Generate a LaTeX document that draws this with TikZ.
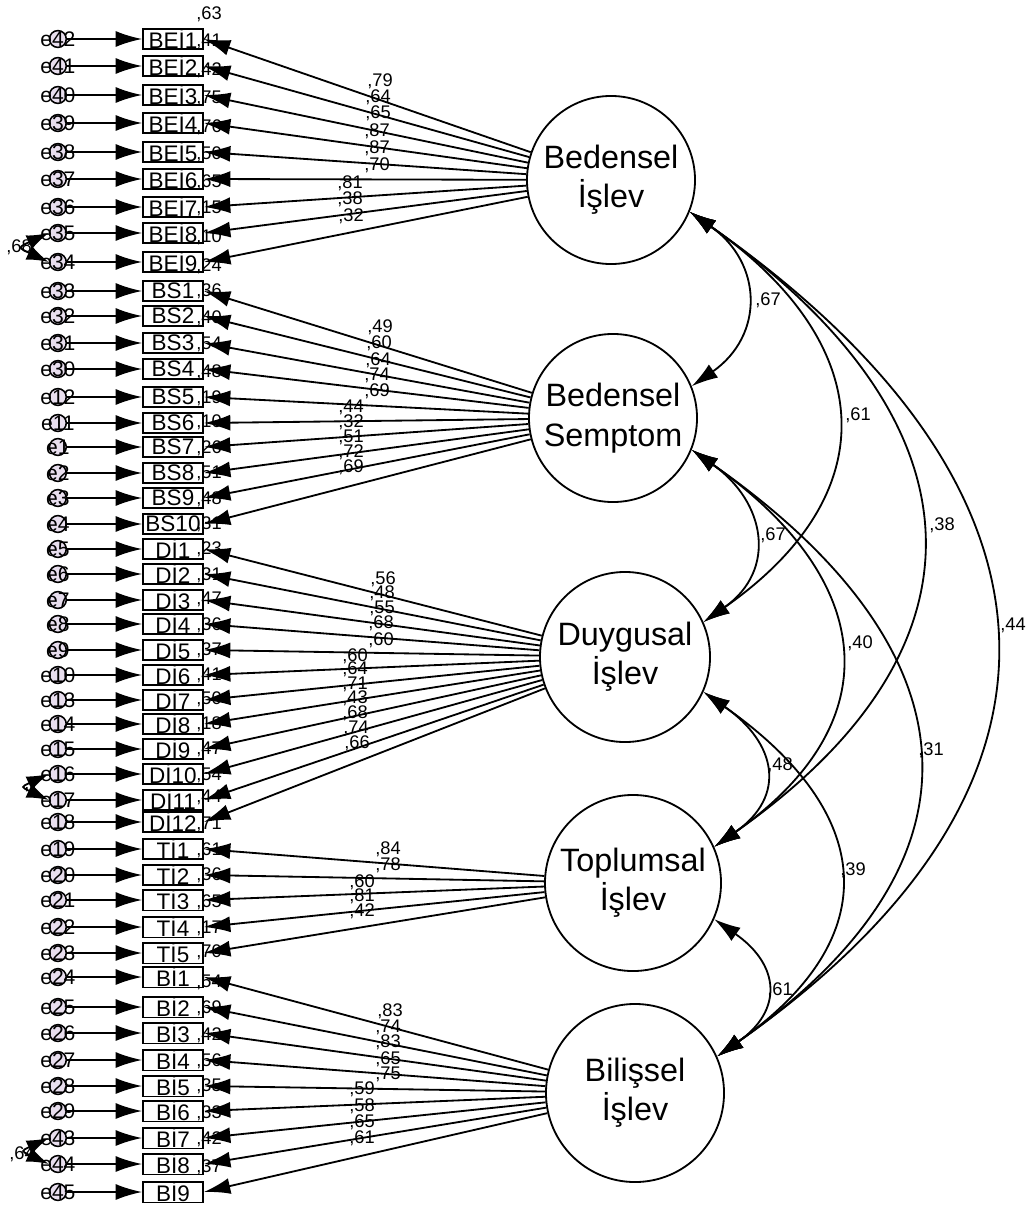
\documentclass[tikz,border=0pt]{standalone}
\usepackage{fontspec}
\setmainfont{Liberation Sans}
\usetikzlibrary{arrows.meta,positioning}
\definecolor{errfill}{RGB}{232,222,238}
\tikzset{
  bigtip/.tip={Latex[length=0.66cm,width=0.4cm]},
  load/.style={line width=1.3pt,-bigtip},
  cov/.style={line width=1.3pt,bigtip-bigtip},
  ecov/.style={line width=1.3pt,{Latex[length=0.55cm,width=0.38cm]}-{Latex[length=0.55cm,width=0.38cm]}},
}
\begin{document}
\begin{tikzpicture}[x=0.025cm,y=-0.025cm,
    every node/.style={font=\fontsize{13}{13}\selectfont,inner sep=0pt},
    item/.style={draw,line width=1.3pt,minimum width=1.5cm,minimum height=0.52cm,font=\fontsize{16}{16}\selectfont},
    errc/.style={circle,draw,line width=1.1pt,fill=errfill,minimum size=0.42cm},
    latent/.style={circle,draw,line width=1.3pt,minimum size=4.2cm,align=center,font=\fontsize{23}{28}\selectfont}]
  \useasboundingbox (0,0) rectangle (1028,1210);
  % latent variables
  \node[latent] (FBE) at (611,180) {Bedensel\\İşlev};
  \node[latent] (FBS) at (613,418) {Bedensel\\Semptom};
  \node[latent,minimum size=4.25cm] (FDI) at (625,657) {Duygusal\\İşlev};
  \node[latent,minimum size=4.4cm] (FTI) at (633,883) {Toplumsal\\İşlev};
  \node[latent,minimum size=4.45cm] (FBI) at (635,1093) {Bilişsel\\İşlev};
  % observed items, errors and squared multiple correlations
  \foreach \n/\t/\y/\e/\r in {BE1/BEİ1/39/42/63,BE2/BEİ2/66/41/41,BE3/BEİ3/95/40/42,
      BE4/BEİ4/123/39/75,BE5/BEİ5/152/38/76,BE6/BEİ6/179/37/50,BE7/BEİ7/207/36/65,
      BE8/BEİ8/233/35/15,BE9/BEİ9/262/34/10,
      BS1/BS1/291/33/24,BS2/BS2/316/32/36,BS3/BS3/343/31/40,BS4/BS4/369/30/54,
      BS5/BS5/397/12/48,BS6/BS6/423/11/19,BS7/BS7/447/1/10,BS8/BS8/473/2/26,
      BS9/BS9/498/3/51,BS10/BS10/524/4/48,
      DI1/Dİ1/549/5/31,DI2/Dİ2/574/6/23,DI3/Dİ3/600/7/31,DI4/Dİ4/624/8/47,
      DI5/Dİ5/650/9/36,DI6/Dİ6/675/10/37,DI7/Dİ7/700/13/41,DI8/Dİ8/724/14/50,
      DI9/Dİ9/749/15/18,DI10/Dİ10/774/16/47,DI11/Dİ11/800/17/54,DI12/Dİ12/822/18/44,
      TI1/Tİ1/849/19/71,TI2/Tİ2/875/20/61,TI3/Tİ3/900/21/36,TI4/Tİ4/927/22/65,
      TI5/Tİ5/953/23/17,
      BI1/Bİ1/977/24/70,BI2/Bİ2/1007/25/54,BI3/Bİ3/1033/26/69,BI4/Bİ4/1060/27/42,
      BI5/Bİ5/1086/28/56,BI6/Bİ6/1111/29/35,BI7/Bİ7/1138/43/33,BI8/Bİ8/1164/44/42,
      BI9/Bİ9/1192/45/37} {
    \node (r\n) at (209,\y-25) {,\r};
    \node[item] (\n) at (173,\y) {\t};
    \node[errc, left=1.875cm of \n] (e\e) {};
    \node[font=\fontsize{15}{15}\selectfont] (te\e) at (e\e) {e\e};
    \draw[load] (e\e) -- (\n);
  }
  % factor loadings
  \foreach \i in {1,...,9} \draw[load] (FBE) -- (BE\i.east);
  \foreach \i in {1,...,10} \draw[load] (FBS) -- (BS\i.east);
  \foreach \i in {1,...,12} \draw[load] (FDI) -- (DI\i.east);
  \foreach \i in {1,...,5} \draw[load] (FTI) -- (TI\i.east);
  \foreach \i in {1,...,9} \draw[load] (FBI) -- (BI\i.east);
  \foreach \x/\y/\v [count=\k] in {380/81/79,378/97/64,378/113/65,377/131/87,377/148/87,
      377/165/70,350/183/81,350/199/38,351/216/32,
      380/327/49,379/343/60,378/360/64,377/375/74,377/391/69,351/407/44,351/422/32,
      351/437/51,351/452/72,351/467/69,
      383/579/56,382/593/48,382/608/55,381/623/68,381/640/60,355/656/60,355/669/64,
      355/684/71,355/698/43,355/713/68,356/728/74,357/743/66,
      388/849/84,388/865/78,362/882/60,362/896/81,362/911/42,
      390/1011/83,388/1027/74,388/1042/83,388/1059/65,388/1074/75,362/1089/59,
      362/1106/58,362/1122/65,362/1138/61}
    \node (w\k) at (\x,\y) {,\v};
  % factor covariances
  \draw[cov] (FBE.-22) .. controls +(73,51) and +(73,-51) .. (FBS.22);
  \draw[cov] (FBE.-22) .. controls +(186,130) and +(186,-130) .. (FDI.24);
  \draw[cov] (FBE.-22) .. controls +(291,204) and +(291,-204) .. (FTI.24);
  \draw[cov] (FBE.-22) .. controls +(387,271) and +(387,-271) .. (FBI.24);
  \draw[cov] (FBS.-22) .. controls +(74,52) and +(74,-52) .. (FDI.24);
  \draw[cov] (FBS.-22) .. controls +(181,127) and +(181,-127) .. (FTI.24);
  \draw[cov] (FBS.-22) .. controls +(283,198) and +(283,-198) .. (FBI.24);
  \draw[cov] (FDI.-24) .. controls +(73,51) and +(73,-51) .. (FTI.24);
  \draw[cov] (FDI.-24) .. controls +(171,120) and +(171,-120) .. (FBI.24);
  \draw[cov] (FTI.-24) .. controls +(66,46) and +(66,-46) .. (FBI.24);
  \foreach \x/\y/\v [count=\k] in {768/300/67,858/415/61,942/525/38,773/535/67,
      1013/625/44,860/643/40,931/750/31,780/765/48,853/870/39,780/990/61}
    \node (c\k) at (\x,\y) {,\v};
  % error covariances
  \draw[ecov] (e35.west) to[out=205,in=155,looseness=3] (e34.west);
  \draw[ecov] (e16.west) to[out=205,in=155,looseness=3] (e17.west);
  \draw[ecov] (e43.west) to[out=205,in=155,looseness=3] (e44.west);
  \node (c68) at (19,247) {,68};
  \node (c1617) at (27,790) {,};
  \node (c4344) at (22,1154) {,64};
\end{tikzpicture}
\end{document}
